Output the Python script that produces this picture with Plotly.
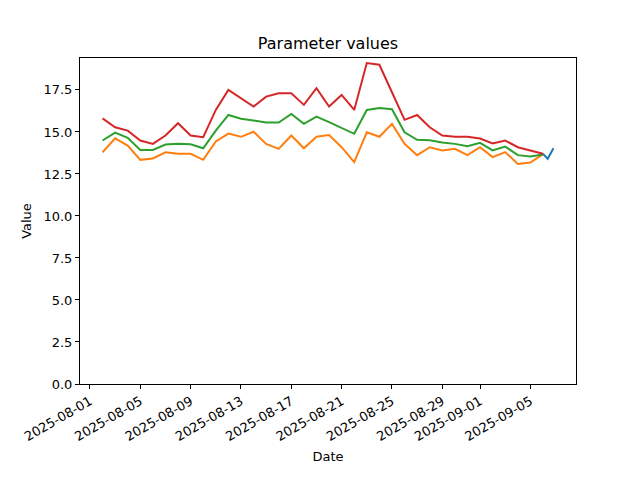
import plotly.graph_objects as go
import pandas as pd

dates = pd.date_range("2025-08-02", "2025-09-06", freq="D")

upper = [15.81, 15.28, 15.08, 14.49, 14.29, 14.79, 15.52, 14.79, 14.69, 16.31,
         17.50, 17.00, 16.51, 17.10, 17.30, 17.30, 16.61, 17.60, 16.51, 17.20,
         16.31, 19.10, 19.00, 17.36, 15.72, 16.01, 15.28, 14.79, 14.71, 14.71,
         14.61, 14.31, 14.49, 14.09, 13.90, 13.70]
mean = [14.49, 14.96, 14.65, 13.93, 13.93, 14.25, 14.29, 14.27, 14.03, 15.08,
        16.01, 15.78, 15.68, 15.56, 15.56, 16.07, 15.48, 15.91, 15.58, 15.24,
        14.89, 16.31, 16.43, 16.35, 14.98, 14.53, 14.51, 14.37, 14.29, 14.15,
        14.35, 13.90, 14.13, 13.62, 13.54, 13.66]
lower = [13.79, 14.62, 14.19, 13.34, 13.42, 13.79, 13.70, 13.70, 13.34, 14.43,
         14.90, 14.71, 15.01, 14.29, 13.99, 14.79, 14.03, 14.71, 14.81, 14.09,
         13.20, 14.98, 14.71, 15.48, 14.29, 13.62, 14.09, 13.90, 14.00, 13.62,
         14.09, 13.50, 13.80, 13.10, 13.18, 13.68]

recent_times = pd.to_datetime(["2025-09-06 00:00", "2025-09-06 09:00", "2025-09-06 20:00"])
recent_vals = [13.70, 13.40, 14.03]

tick_dates = ["2025-08-01", "2025-08-05", "2025-08-09", "2025-08-13", "2025-08-17",
              "2025-08-21", "2025-08-25", "2025-08-29", "2025-09-01", "2025-09-05"]
y_ticks = [0, 2.5, 5, 7.5, 10, 12.5, 15, 17.5]

fig = go.Figure()
fig.add_trace(go.Scatter(x=recent_times, y=recent_vals, mode="lines",
                         line=dict(color="#1f77b4", width=2)))
fig.add_trace(go.Scatter(x=dates, y=lower, mode="lines",
                         line=dict(color="#ff7f0e", width=2)))
fig.add_trace(go.Scatter(x=dates, y=mean, mode="lines",
                         line=dict(color="#2ca02c", width=2)))
fig.add_trace(go.Scatter(x=dates, y=upper, mode="lines",
                         line=dict(color="#d62728", width=2)))

# matplotlib-like 5% margins
xmin = dates.min()
xmax = recent_times.max()
span = xmax - xmin
xr = [xmin - 0.05 * span, xmax + 0.05 * span]
allv = upper + mean + lower + recent_vals
ymax = max(allv) + 0.05 * (max(allv) - min(allv))

font = "DejaVu Sans"
# page body adds an 8px offset; margins compensate for it
fig.update_layout(
    width=640, height=480,
    margin=dict(l=72, r=72, t=50, b=104),
    paper_bgcolor="white", plot_bgcolor="white",
    showlegend=False,
    font=dict(family=font, size=13, color="black"),
    title=dict(text="Parameter values", x=0.5, xref="paper", xanchor="center",
               y=1 - 35 / 480, yanchor="middle", font=dict(size=16, family=font)),
)
fig.update_xaxes(
    range=xr, showgrid=False, zeroline=False, automargin=False,
    showline=True, linecolor="black", linewidth=1, mirror=True,
    ticks="outside", ticklen=4, tickwidth=1, tickcolor="black",
    tickvals=pd.to_datetime(tick_dates), tickformat="%Y-%m-%d", tickangle=-30,
    tickfont=dict(size=13),
    title=dict(text="Date", font=dict(size=13), standoff=8),
)
fig.update_yaxes(
    range=[0, ymax], showgrid=False, zeroline=False, automargin=False,
    showline=True, linecolor="black", linewidth=1, mirror=True,
    ticks="outside", ticklen=4, tickwidth=1, tickcolor="black",
    tickvals=y_ticks, tickformat=".1f", tickfont=dict(size=13),
    title=dict(text="Value", font=dict(size=13), standoff=8),
)
fig.write_html("out.html")
